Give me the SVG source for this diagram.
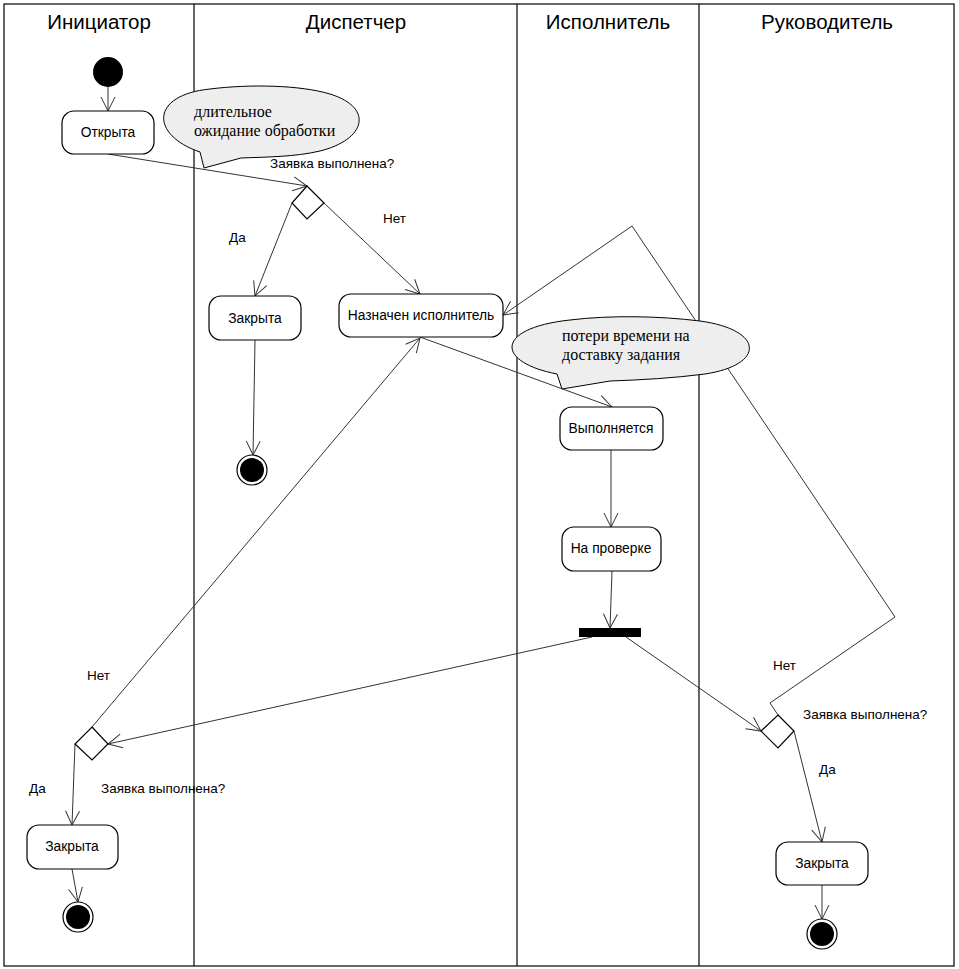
<svg xmlns="http://www.w3.org/2000/svg" width="959" height="969" viewBox="0 0 959 969">
<style>
.lane{fill:none;stroke:#000;stroke-width:1.2}
.hdr{font-family:"Liberation Sans",Arial,sans-serif;font-size:20.5px;fill:#000;text-anchor:middle}
.st{fill:#fff;stroke:#000;stroke-width:1.2}
.lbl{font-family:"Liberation Sans",Arial,sans-serif;font-size:13.5px;fill:#000}
.ntext{font-family:"Liberation Sans",Arial,sans-serif;font-size:13.8px;fill:#000;text-anchor:middle}
.note{fill:#eeeeee;stroke:#000;stroke-width:1}
.ntxt{font-family:"Liberation Serif","Times New Roman",serif;font-size:16px;fill:#000}
.c{fill:none;stroke:#333;stroke-width:1}
</style>
<defs>
<marker id="a" markerUnits="userSpaceOnUse" markerWidth="16" markerHeight="16" viewBox="0 0 16 16" refX="15" refY="8" orient="auto">
<path d="M1,1 L15,8 L1,15" fill="none" stroke="#333" stroke-width="1"/>
</marker>
</defs>
<rect x="0" y="0" width="959" height="969" fill="#fff"/>
<g id="lanes">
<rect class="lane" x="4" y="4" width="950" height="962"/>
<line class="lane" x1="194" y1="4" x2="194" y2="966"/>
<line class="lane" x1="517" y1="4" x2="517" y2="966"/>
<line class="lane" x1="699" y1="4" x2="699" y2="966"/>
<text class="hdr" x="99" y="29">Инициатор</text>
<text class="hdr" x="356" y="29">Диспетчер</text>
<text class="hdr" x="608" y="29">Исполнитель</text>
<text class="hdr" x="827" y="29">Руководитель</text>
</g>
<g id="connectors">
<line class="c" x1="108" y1="87" x2="108" y2="111" marker-end="url(#a)"/>
<line class="c" x1="108" y1="154" x2="307" y2="186" marker-end="url(#a)"/>
<line class="c" x1="292" y1="203" x2="255" y2="296" marker-end="url(#a)"/>
<line class="c" x1="324" y1="203" x2="420" y2="294" marker-end="url(#a)"/>
<line class="c" x1="255" y1="340" x2="253" y2="455" marker-end="url(#a)"/>
<line class="c" x1="420" y1="337" x2="612" y2="407" marker-end="url(#a)"/>
<line class="c" x1="611" y1="450" x2="611" y2="527" marker-end="url(#a)"/>
<line class="c" x1="612" y1="571" x2="610" y2="628" marker-end="url(#a)"/>
<line class="c" x1="626" y1="637" x2="761" y2="731" marker-end="url(#a)"/>
<line class="c" x1="592" y1="637" x2="108" y2="744" marker-end="url(#a)"/>
<line class="c" x1="92" y1="727" x2="420" y2="338" marker-end="url(#a)"/>
<line class="c" x1="75" y1="744" x2="72" y2="825" marker-end="url(#a)"/>
<line class="c" x1="72" y1="869" x2="78" y2="902" marker-end="url(#a)"/>
<polyline class="c" points="778,715 770,703 895,617 632,226 503,315" marker-end="url(#a)"/>
<line class="c" x1="794" y1="731" x2="822" y2="842" marker-end="url(#a)"/>
<line class="c" x1="822" y1="885" x2="822" y2="919" marker-end="url(#a)"/>
<text class="lbl" x="270" y="168">Заявка выполнена?</text>
<text class="lbl" x="229" y="242">Да</text>
<text class="lbl" x="383" y="223">Нет</text>
<text class="lbl" x="87" y="680">Нет</text>
<text class="lbl" x="29" y="793">Да</text>
<text class="lbl" x="101" y="793">Заявка выполнена?</text>
<text class="lbl" x="773" y="670">Нет</text>
<text class="lbl" x="803" y="719">Заявка выполнена?</text>
<text class="lbl" x="819" y="774">Да</text>
</g>
<g id="start">
<circle cx="108" cy="72" r="15" fill="#000"/>
</g>
<g id="otkryta">
<rect class="st" x="62" y="111" width="92" height="43" rx="12"/>
<text class="ntext" x="108" y="137">Открыта</text>
</g>
<g id="note1">
<path class="note" d="M200,152 C150,135 150,95 210,89 C250,84 300,85 330,94 C375,108 365,140 320,151 C295,157 265,157 241,158 L204,168 Z"/>
<text class="ntxt" x="194" y="117">длительное</text>
<text class="ntxt" x="194" y="136">ожидание обработки</text>
</g>
<g id="decision1">
<polygon class="st" points="307,186 324,203 307,219 292,203"/>
</g>
<g id="zakryta1">
<rect class="st" x="209" y="296" width="92" height="44" rx="12"/>
<text class="ntext" x="255" y="323">Закрыта</text>
</g>
<g id="final1">
<circle cx="252" cy="470" r="15" fill="#fff" stroke="#000" stroke-width="1.2"/>
<circle cx="252" cy="470" r="12" fill="#000"/>
</g>
<g id="naznachen">
<rect class="st" x="339" y="294" width="164" height="43" rx="12"/>
<text class="ntext" x="421" y="320">Назначен исполнитель</text>
</g>
<g id="note2">
<path class="note" d="M557,374 C495,362 495,328 570,320 C610,315 660,316 700,321 C765,330 765,365 705,374 C675,378 640,380 610,381 L562,389 Z"/>
<text class="ntxt" x="562" y="341">потери времени на</text>
<text class="ntxt" x="562" y="360">доставку задания</text>
</g>
<g id="vypolnyaetsya">
<rect class="st" x="560" y="407" width="103" height="43" rx="12"/>
<text class="ntext" x="611" y="433">Выполняется</text>
</g>
<g id="naproverke">
<rect class="st" x="562" y="527" width="99" height="44" rx="12"/>
<text class="ntext" x="611" y="553">На проверке</text>
</g>
<g id="bar">
<rect x="579" y="628" width="62" height="9" fill="#000"/>
</g>
<g id="decision2">
<polygon class="st" points="92,727 108,744 92,760 75,744"/>
</g>
<g id="zakryta2">
<rect class="st" x="27" y="825" width="91" height="44" rx="12"/>
<text class="ntext" x="72" y="851">Закрыта</text>
</g>
<g id="final2">
<circle cx="78" cy="917" r="15" fill="#fff" stroke="#000" stroke-width="1.2"/>
<circle cx="78" cy="917" r="12" fill="#000"/>
</g>
<g id="decision3">
<polygon class="st" points="778,715 794,731 778,748 761,731"/>
</g>
<g id="zakryta3">
<rect class="st" x="776" y="842" width="92" height="43" rx="12"/>
<text class="ntext" x="822" y="868">Закрыта</text>
</g>
<g id="final3">
<circle cx="822" cy="934" r="15" fill="#fff" stroke="#000" stroke-width="1.2"/>
<circle cx="822" cy="934" r="12" fill="#000"/>
</g>
</svg>
